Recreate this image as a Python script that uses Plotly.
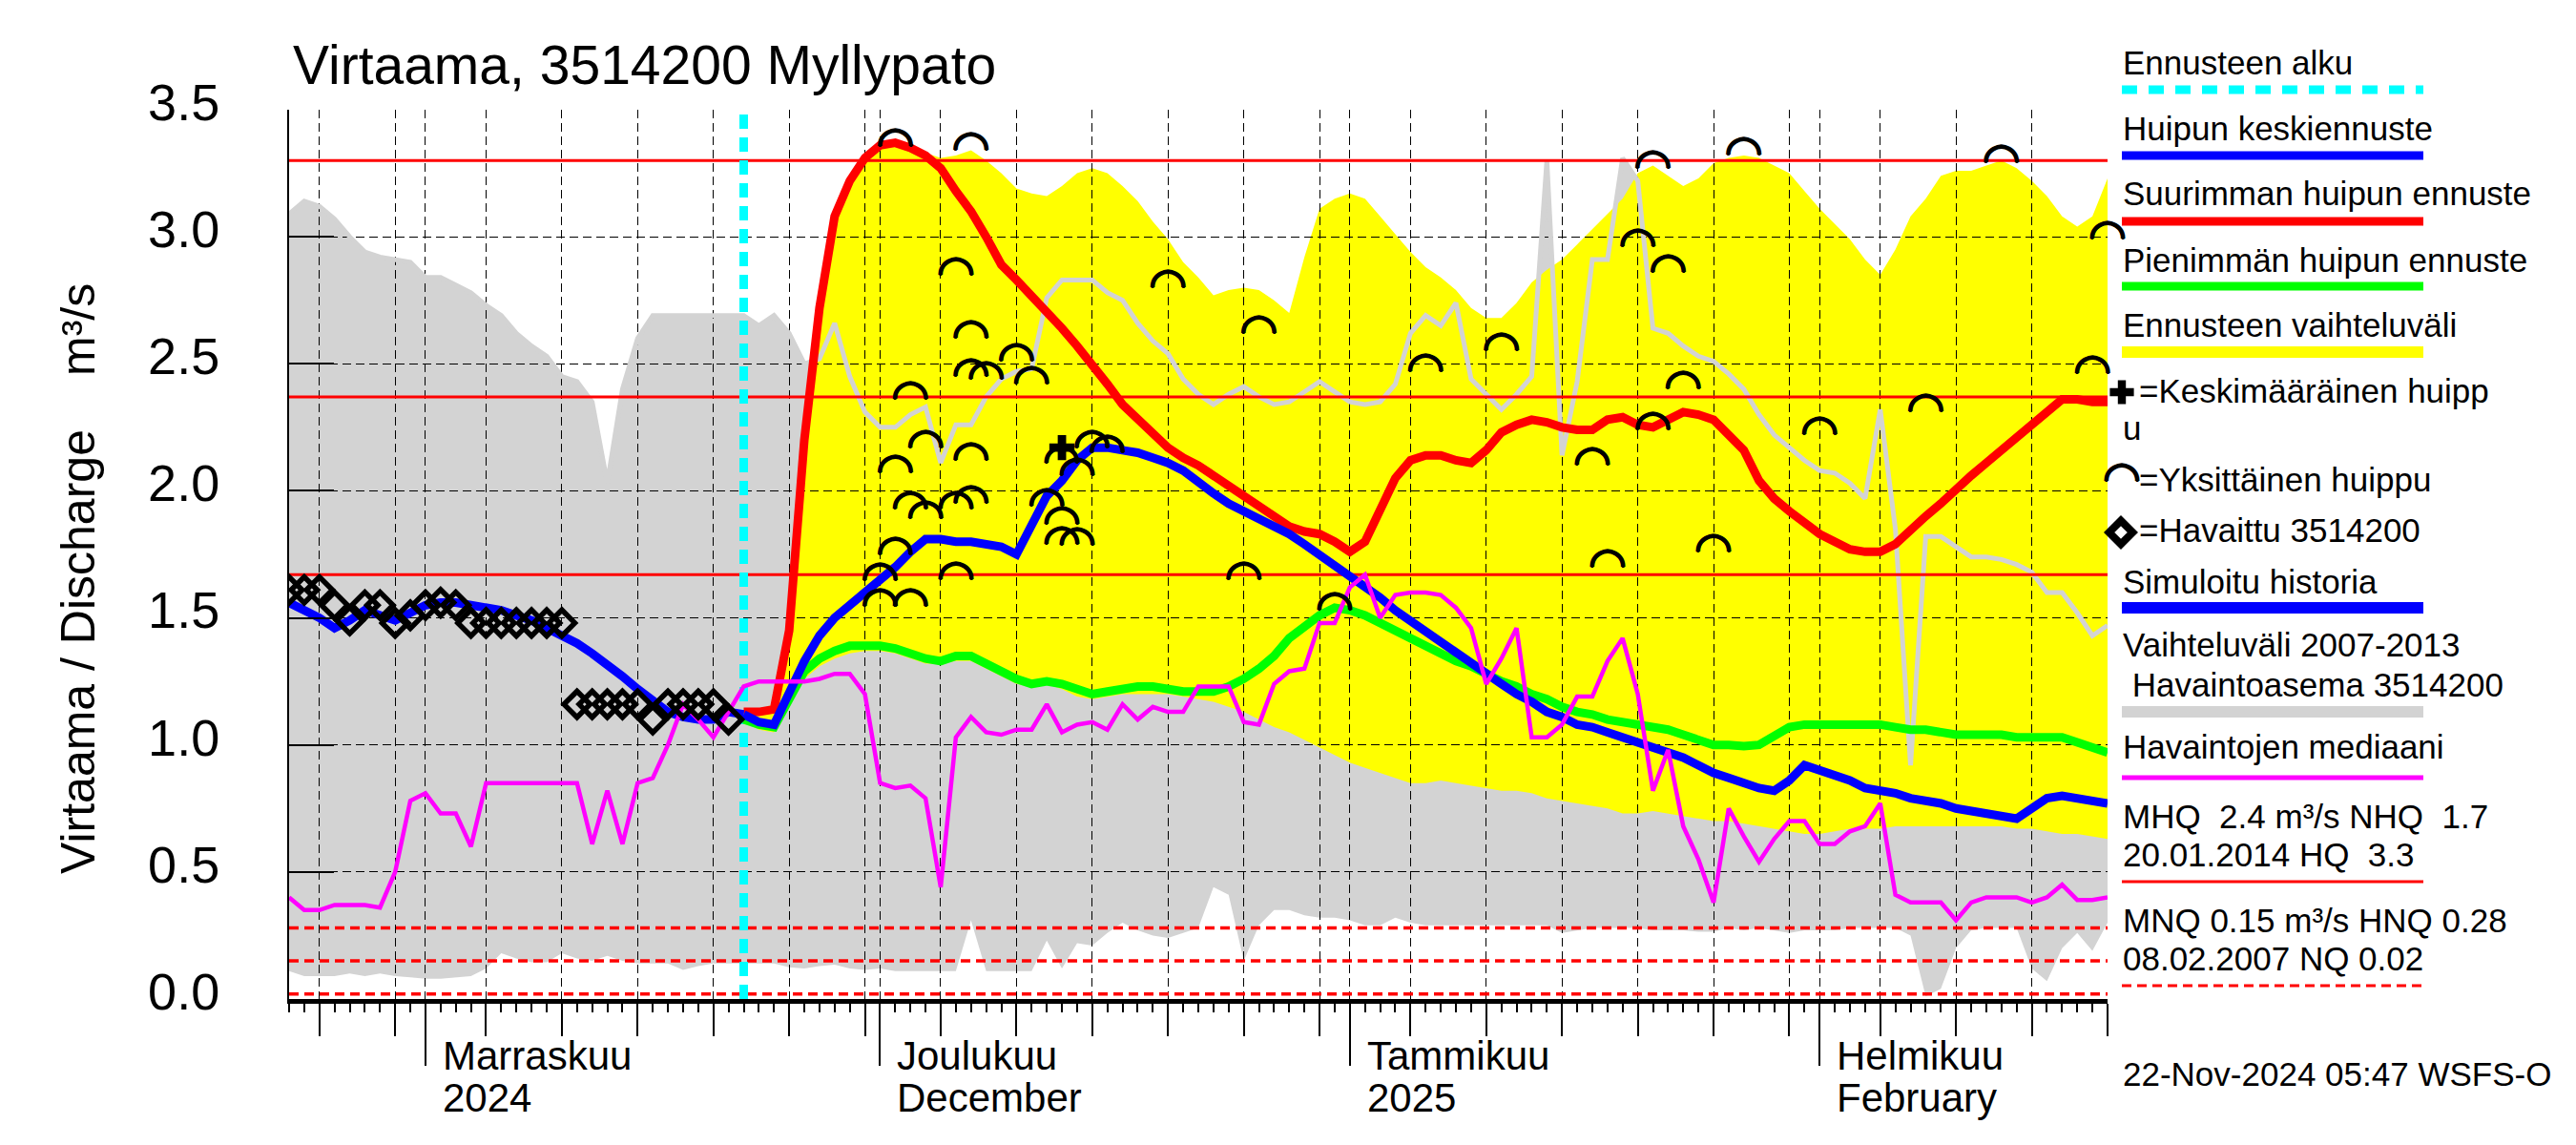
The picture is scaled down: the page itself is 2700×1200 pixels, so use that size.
import plotly.graph_objects as go
import pandas as pd

# ---------------- canvas / layout constants ----------------
W, H = 2700, 1200
OFF = 8                                          # page (body) offset of the figure
PX_L, PX_R, PX_T, PX_B = 303, 2209, 115, 1047   # plot area (pixels on the page)
FONT = "Liberation Sans, Arial, Helvetica, sans-serif"
GRAY = "#d3d3d3"
YELLOW = "#ffff00"
BLUE = "#0000ff"
RED = "#ff0000"
GREEN = "#00ff00"
MAGENTA = "#ff00ff"
CYAN = "#00ffff"

# ---------------- data ----------------
START = "2024-10-23"
END = "2025-02-20"
FC_START = "2024-11-22"

# historical range 2007-2013 (daily, START..END)
gray_high = [3.09, 3.14, 3.12, 3.07, 3.00, 2.94, 2.92, 2.91, 2.90, 2.84,
             2.84, 2.81, 2.78, 2.73, 2.69, 2.62, 2.57, 2.53, 2.45, 2.43,
             2.35, 2.03, 2.40, 2.60, 2.69, 2.69, 2.69, 2.69, 2.69, 2.69,
             2.69, 2.65, 2.69, 2.62, 2.50, 2.52, 2.66, 2.45, 2.31, 2.25,
             2.25, 2.30, 2.33, 2.11, 2.26, 2.26, 2.37, 2.44, 2.47, 2.48,
             2.76, 2.83, 2.83, 2.83, 2.78, 2.75, 2.66, 2.59, 2.54, 2.44,
             2.38, 2.34, 2.38, 2.41, 2.37, 2.34, 2.35, 2.39, 2.43, 2.39,
             2.35, 2.34, 2.35, 2.42, 2.62, 2.69, 2.65, 2.74, 2.44, 2.38,
             2.32, 2.38, 2.45, 3.30, 2.14, 2.43, 2.91, 2.91, 3.31, 3.22,
             2.64, 2.62, 2.57, 2.53, 2.51, 2.46, 2.40, 2.30, 2.22, 2.17,
             2.12, 2.08, 2.07, 2.03, 1.97, 2.32, 1.85, 0.92, 1.82, 1.82,
             1.78, 1.74, 1.74, 1.73, 1.71, 1.68, 1.60, 1.60, 1.52, 1.43,
             1.47]
gray_low = [0.11, 0.09, 0.09, 0.09, 0.10, 0.09, 0.10, 0.09, 0.085, 0.08,
            0.08, 0.085, 0.09, 0.12, 0.18, 0.16, 0.145, 0.145, 0.18, 0.16,
            0.15, 0.17, 0.15, 0.14, 0.14, 0.14, 0.115, 0.13, 0.14, 0.14,
            0.14, 0.14, 0.14, 0.125, 0.12, 0.13, 0.135, 0.12, 0.115, 0.12,
            0.11, 0.11, 0.11, 0.11, 0.11, 0.31, 0.11, 0.11, 0.11, 0.11,
            0.23, 0.12, 0.22, 0.21, 0.26, 0.30, 0.27, 0.25, 0.24, 0.26,
            0.28, 0.44, 0.41, 0.15, 0.29, 0.35, 0.35, 0.33, 0.32, 0.32,
            0.31, 0.29, 0.29, 0.32, 0.30, 0.29, 0.29, 0.29, 0.29, 0.29,
            0.29, 0.29, 0.29, 0.29, 0.26, 0.27, 0.28, 0.28, 0.28, 0.28,
            0.27, 0.27, 0.27, 0.265, 0.265, 0.28, 0.27, 0.28, 0.27, 0.26,
            0.27, 0.27, 0.27, 0.28, 0.28, 0.28, 0.28, 0.25, 0.01, 0.04,
            0.20, 0.27, 0.28, 0.28, 0.28, 0.12, 0.07, 0.20, 0.26, 0.19,
            0.30]
# median of observations (daily, START..END)
median_obs = [0.40, 0.35, 0.35, 0.37, 0.37, 0.37, 0.36, 0.50, 0.78, 0.81,
              0.73, 0.73, 0.60, 0.85, 0.85, 0.85, 0.85, 0.85, 0.85, 0.85,
              0.61, 0.82, 0.61, 0.85, 0.87, 1.00, 1.16, 1.10, 1.03, 1.13,
              1.23, 1.25, 1.25, 1.25, 1.25, 1.26, 1.28, 1.28, 1.20, 0.85,
              0.83, 0.84, 0.79, 0.44, 1.03, 1.11, 1.05, 1.04, 1.06, 1.06,
              1.16, 1.05, 1.08, 1.09, 1.06, 1.16, 1.10, 1.15, 1.13, 1.13,
              1.23, 1.23, 1.23, 1.09, 1.08, 1.24, 1.29, 1.30, 1.48, 1.48,
              1.62, 1.67, 1.50, 1.59, 1.60, 1.60, 1.59, 1.54, 1.46, 1.24,
              1.34, 1.46, 1.03, 1.03, 1.08, 1.19, 1.19, 1.33, 1.42, 1.20,
              0.82, 0.98, 0.68, 0.55, 0.38, 0.75, 0.64, 0.54, 0.63, 0.70,
              0.70, 0.61, 0.61, 0.66, 0.68, 0.77, 0.41, 0.38, 0.38, 0.38,
              0.31, 0.38, 0.40, 0.40, 0.40, 0.38, 0.40, 0.45, 0.39, 0.39,
              0.40]
# observed discharge 3514200 (daily from START)
observed = [1.61, 1.61, 1.61, 1.55, 1.49, 1.55, 1.55, 1.48, 1.51, 1.55,
            1.56, 1.55, 1.48, 1.48, 1.48, 1.48, 1.48, 1.48, 1.48, 1.16,
            1.16, 1.16, 1.16, 1.16, 1.10, 1.16, 1.16, 1.16, 1.16, 1.10]
# simulated history (daily from START up to forecast start)
sim_history = [1.56, 1.53, 1.50, 1.46, 1.49, 1.53, 1.51, 1.49, 1.52, 1.55,
               1.56, 1.56, 1.55, 1.54, 1.53, 1.51, 1.49, 1.46, 1.43, 1.40,
               1.36, 1.32, 1.27, 1.22, 1.17, 1.13, 1.11, 1.10, 1.10, 1.13,
               1.12]
# forecasts (daily, FC_START..END)
fc_mean = [1.12, 1.09, 1.08, 1.20, 1.33, 1.43, 1.50, 1.55, 1.60, 1.64,
           1.70, 1.76, 1.81, 1.81, 1.80, 1.80, 1.79, 1.78, 1.75, 1.87,
           1.98, 2.04, 2.12, 2.17, 2.17, 2.16, 2.15, 2.13, 2.11, 2.08,
           2.03, 1.99, 1.95, 1.92, 1.89, 1.86, 1.83, 1.79, 1.75, 1.71,
           1.67, 1.62, 1.58, 1.53, 1.49, 1.45, 1.41, 1.36, 1.32, 1.28,
           1.24, 1.20, 1.17, 1.13, 1.11, 1.08, 1.07, 1.05, 1.03, 1.01,
           0.99, 0.97, 0.95, 0.92, 0.89, 0.87, 0.85, 0.83, 0.82, 0.86,
           0.92, 0.90, 0.88, 0.86, 0.83, 0.82, 0.81, 0.79, 0.78, 0.77,
           0.75, 0.74, 0.73, 0.72, 0.71, 0.75, 0.79, 0.80, 0.79, 0.78,
           0.77]
fc_max = [1.13, 1.13, 1.14, 1.45, 2.20, 2.72, 3.08, 3.22, 3.31, 3.36,
          3.37, 3.35, 3.32, 3.27, 3.18, 3.10, 3.00, 2.89, 2.83, 2.77,
          2.71, 2.64, 2.57, 2.50, 2.42, 2.34, 2.28, 2.22, 2.17, 2.13,
          2.10, 2.06, 2.02, 1.98, 1.94, 1.90, 1.86, 1.84, 1.83, 1.80,
          1.76, 1.80, 1.93, 2.05, 2.12, 2.14, 2.14, 2.12, 2.11, 2.16,
          2.23, 2.26, 2.28, 2.27, 2.25, 2.24, 2.24, 2.28, 2.29, 2.26,
          2.25, 2.28, 2.31, 2.30, 2.28, 2.22, 2.16, 2.04, 1.97, 1.92,
          1.87, 1.83, 1.80, 1.77, 1.76, 1.76, 1.79, 1.85, 1.90, 1.95,
          2.01, 2.06, 2.11, 2.16, 2.21, 2.26, 2.32, 2.36, 2.36, 2.35,
          2.35]
fc_min = [1.10, 1.08, 1.07, 1.18, 1.29, 1.34, 1.37, 1.39, 1.39, 1.39,
          1.38, 1.36, 1.34, 1.33, 1.35, 1.35, 1.32, 1.29, 1.26, 1.24,
          1.25, 1.24, 1.22, 1.20, 1.21, 1.22, 1.23, 1.23, 1.22, 1.21,
          1.21, 1.21, 1.23, 1.26, 1.30, 1.35, 1.42, 1.47, 1.51, 1.54,
          1.53, 1.51, 1.48, 1.45, 1.42, 1.39, 1.36, 1.33, 1.31, 1.28,
          1.25, 1.23, 1.20, 1.18, 1.15, 1.13, 1.12, 1.10, 1.09, 1.08,
          1.07, 1.06, 1.04, 1.02, 1.00, 1.00, 0.995, 1.00, 1.04, 1.07,
          1.08, 1.08, 1.08, 1.08, 1.08, 1.08, 1.07, 1.06, 1.06, 1.05,
          1.04, 1.04, 1.04, 1.04, 1.03, 1.03, 1.03, 1.03, 1.01, 0.99,
          0.97]
ens_high = [1.14, 1.14, 1.16, 1.48, 2.22, 2.74, 3.10, 3.24, 3.33, 3.37,
            3.38, 3.36, 3.33, 3.31, 3.32, 3.34, 3.30, 3.25, 3.19, 3.17,
            3.16, 3.20, 3.25, 3.27, 3.25, 3.20, 3.14, 3.06, 2.99, 2.90,
            2.84, 2.77, 2.79, 2.80, 2.79, 2.75, 2.70, 2.92, 3.11, 3.15,
            3.17, 3.15, 3.08, 3.01, 2.94, 2.88, 2.84, 2.79, 2.72, 2.68,
            2.68, 2.74, 2.82, 2.87, 2.91, 2.97, 3.03, 3.09, 3.15, 3.25,
            3.28, 3.24, 3.20, 3.23, 3.29, 3.31, 3.32, 3.31, 3.28, 3.25,
            3.18, 3.11, 3.05, 2.99, 2.91, 2.85, 2.95, 3.08, 3.15, 3.24,
            3.26, 3.26, 3.28, 3.30, 3.27, 3.22, 3.16, 3.08, 3.04, 3.08,
            3.23]
ens_low = [1.09, 1.06, 1.05, 1.15, 1.26, 1.31, 1.34, 1.36, 1.37, 1.37,
           1.36, 1.34, 1.32, 1.32, 1.33, 1.33, 1.30, 1.27, 1.24, 1.23,
           1.24, 1.22, 1.19, 1.18, 1.19, 1.20, 1.20, 1.20, 1.20, 1.19,
           1.18, 1.17, 1.15, 1.13, 1.10, 1.07, 1.05, 1.02, 0.99, 0.96,
           0.93, 0.91, 0.89, 0.87, 0.85, 0.85, 0.86, 0.85, 0.84, 0.83,
           0.82, 0.82, 0.81, 0.79, 0.78, 0.77, 0.76, 0.75, 0.73, 0.73,
           0.74, 0.73, 0.72, 0.71, 0.70, 0.70, 0.69, 0.68, 0.67, 0.66,
           0.65, 0.65, 0.66, 0.67, 0.67, 0.67, 0.68, 0.68, 0.68, 0.68,
           0.68, 0.68, 0.68, 0.68, 0.67, 0.67, 0.66, 0.65, 0.65, 0.64,
           0.63]
# single ensemble peaks
peak_dates = ["2024-12-02", "2024-12-07", "2024-12-06", "2024-12-07", "2024-12-10",
              "2024-12-07", "2024-12-08", "2024-12-11", "2024-12-03", "2024-12-04",
              "2024-12-07", "2024-12-02", "2024-12-03", "2024-12-04", "2024-12-06",
              "2024-12-07", "2024-12-02", "2024-12-01", "2024-12-06", "2024-12-01",
              "2024-12-03", "2024-12-13", "2024-12-15", "2024-12-16", "2024-12-14",
              "2024-12-12", "2024-12-13", "2024-12-13", "2024-12-14", "2024-12-20",
              "2024-12-26", "2024-12-25", "2024-12-31", "2025-01-06", "2025-01-11",
              "2025-01-17", "2025-01-18", "2025-01-20", "2025-01-22", "2025-01-21",
              "2025-01-21", "2025-01-23", "2025-01-25", "2025-01-27", "2025-02-01",
              "2025-02-08", "2025-02-13", "2025-02-19", "2025-02-20"]
peak_values = [3.355, 3.34, 2.85, 2.60, 2.51, 2.45, 2.44, 2.42, 2.36, 2.17,
               2.12, 2.07, 1.93, 1.89, 1.93, 1.95, 1.75, 1.645, 1.65, 1.545,
               1.545, 2.11, 2.17, 2.15, 2.06, 1.94, 1.87, 1.79, 1.785, 2.80,
               2.62, 1.65, 1.53, 2.47, 2.55, 2.10, 1.70, 2.96, 2.86, 3.27,
               2.24, 2.40, 1.76, 3.32, 2.22, 2.31, 3.29, 2.46, 2.99]
mean_peak_date = ["2024-12-13"]
mean_peak_value = [2.17]

# key values
HQ, MHQ, NHQ = 3.30, 2.37, 1.67
HNQ, MNQ, NQ = 0.28, 0.15, 0.02

# axis ticks / labels
y_ticks = [0.0, 0.5, 1.0, 1.5, 2.0, 2.5, 3.0, 3.5]
month_starts = ["2024-11-01", "2024-12-01", "2025-01-01", "2025-02-01"]
month_names = ["Marraskuu", "Joulukuu", "Tammikuu", "Helmikuu"]
month_sub = ["2024", "December", "2025", "February"]
grid_days = [1, 5, 10, 15, 20, 25, 30]

# ---------------- derived ----------------
days = pd.date_range(START, END, freq="D")
fc_days = pd.date_range(FC_START, END, freq="D")
obs_days = days[:len(observed)]
hist_days = days[:len(sim_history)]
grid_dates = [d for d in pd.date_range("2024-10-01", END, freq="D")
              if d.day in grid_days and pd.Timestamp(START) <= d <= pd.Timestamp(END)]


def fx(px):
    return (px - OFF) / W


def fy(py):
    return 1 - (py - OFF) / H


XDOM = [fx(PX_L), fx(PX_R)]
YDOM = [fy(PX_B), fy(PX_T)]

fig = go.Figure()

# ---- subplot A : filled bands (under the grid) ----
fig.add_trace(go.Scatter(x=days, y=gray_low, mode="lines", line=dict(width=0, color=GRAY),
                         xaxis="x", yaxis="y", showlegend=False, hoverinfo="skip"))
fig.add_trace(go.Scatter(x=days, y=gray_high, mode="lines", line=dict(width=0, color=GRAY),
                         fill="tonexty", fillcolor=GRAY,
                         xaxis="x", yaxis="y", showlegend=False, hoverinfo="skip"))
fig.add_trace(go.Scatter(x=fc_days, y=ens_low, mode="lines", line=dict(width=0, color=YELLOW),
                         xaxis="x", yaxis="y", showlegend=False, hoverinfo="skip"))
fig.add_trace(go.Scatter(x=fc_days, y=ens_high, mode="lines", line=dict(width=0, color=YELLOW),
                         fill="tonexty", fillcolor=YELLOW,
                         xaxis="x", yaxis="y", showlegend=False, hoverinfo="skip"))


# ---- subplot B : grid, lines, markers ----
def b_line(x, y, color, width, dash=None):
    fig.add_trace(go.Scatter(x=x, y=y, mode="lines",
                             line=dict(color=color, width=width, dash=dash),
                             xaxis="x2", yaxis="y2", showlegend=False, hoverinfo="skip"))


b_line(days, gray_high, GRAY, 5)
for v in (HQ, MHQ, NHQ):
    b_line([START, END], [v, v], RED, 3)
for v in (HNQ, MNQ, NQ):
    b_line([START, END], [v, v], RED, 3.5, "10px,6px")
b_line([FC_START, FC_START], [y_ticks[0], y_ticks[-1]], CYAN, 9, "15px,9px")
b_line(fc_days, fc_min, GREEN, 9)
b_line(fc_days, fc_max, RED, 9)
b_line(hist_days, sim_history, BLUE, 9)
b_line(fc_days, fc_mean, BLUE, 9)
b_line(days, median_obs, MAGENTA, 4.5)

fig.add_trace(go.Scatter(x=obs_days, y=observed, mode="markers",
                         marker=dict(symbol="diamond-open", size=21, color="black",
                                     line=dict(width=5.5, color="black")),
                         xaxis="x2", yaxis="y2", showlegend=False, hoverinfo="skip"))
ARC = "\u25E0"
ARC_FONT = dict(family="DejaVu Sans", size=46, color="black", weight="bold",
                shadow="1px 0px 0px black, -1px 0px 0px black, 0px 1px 0px black, 0px -1px 0px black")
fig.add_trace(go.Scatter(x=peak_dates, y=peak_values, mode="text",
                         text=[ARC] * len(peak_values), textposition="middle center",
                         textfont=ARC_FONT, cliponaxis=False,
                         xaxis="x2", yaxis="y2", showlegend=False, hoverinfo="skip"))
fig.add_trace(go.Scatter(x=mean_peak_date, y=mean_peak_value, mode="markers",
                         marker=dict(symbol="cross", size=22, color="black"),
                         xaxis="x2", yaxis="y2", showlegend=False, hoverinfo="skip"))

# ---- subplot C : legend samples (page pixel space) ----
LX0, LX1 = 2224, 2540


def c_line(yc, color, width, dash=None):
    fig.add_trace(go.Scatter(x=[LX0, LX1], y=[yc, yc], mode="lines",
                             line=dict(color=color, width=width, dash=dash),
                             xaxis="x3", yaxis="y3", showlegend=False, hoverinfo="skip",
                             cliponaxis=False))


c_line(94, CYAN, 9, "16px,12px")
c_line(163, BLUE, 9)
c_line(232, RED, 9)
c_line(300, GREEN, 9)
c_line(369, YELLOW, 12)
c_line(637, BLUE, 12)
c_line(746, GRAY, 12)
c_line(815, MAGENTA, 5)
c_line(924, RED, 3)
c_line(1033, RED, 3, "10px,6px")
fig.add_trace(go.Scatter(x=[2224], y=[411], mode="markers",
                         marker=dict(symbol="cross", size=21, color="black"),
                         xaxis="x3", yaxis="y3", showlegend=False, cliponaxis=False))
fig.add_trace(go.Scatter(x=[2223], y=[558], mode="markers",
                         marker=dict(symbol="diamond-open", size=19, color="black",
                                     line=dict(width=8, color="black")),
                         xaxis="x3", yaxis="y3", showlegend=False, cliponaxis=False))
fig.add_trace(go.Scatter(x=[2224], y=[504], mode="text", text=[ARC],
                         textposition="middle center", textfont=ARC_FONT,
                         xaxis="x3", yaxis="y3", showlegend=False, cliponaxis=False))

# ---------------- annotations ----------------
ann = []


def text_at(X, baseline, s, fs, anchor="left"):
    ann.append(dict(xref="paper", yref="paper", x=fx(X), y=fy(baseline - 0.35 * fs),
                    xanchor=anchor, yanchor="middle", text=s, showarrow=False,
                    font=dict(family=FONT, size=fs, color="black")))


text_at(305, 88, "Virtaama, 3514200 Myllypato", 57)

LF = 35
text_at(2223, 78, "Ennusteen alku", LF)
text_at(2223, 147, "Huipun keskiennuste", LF)
text_at(2223, 215, "Suurimman huipun ennuste", LF)
text_at(2223, 285, "Pienimmän huipun ennuste", LF)
text_at(2223, 353, "Ennusteen vaihteluväli", LF)
text_at(2240, 422, "=Keskimääräinen huipp", LF)
text_at(2223, 461, "u", LF)
text_at(2240, 515, "=Yksittäinen huippu", LF)
text_at(2240, 568, "=Havaittu 3514200", LF)
text_at(2223, 622, "Simuloitu historia", LF)
text_at(2223, 688, "Vaihteluväli 2007-2013", LF)
text_at(2223, 730, "\u00a0Havaintoasema 3514200", LF)
text_at(2223, 795, "Havaintojen mediaani", LF)
text_at(2223, 868, "MHQ\u00a0\u00a02.4 m³/s NHQ\u00a0\u00a01.7", LF)
text_at(2223, 908, "20.01.2014 HQ\u00a0\u00a03.3", LF)
text_at(2223, 977, "MNQ 0.15 m³/s HNQ 0.28", LF)
text_at(2223, 1017, "08.02.2007 NQ 0.02", LF)
text_at(2223, 1138, "22-Nov-2024 05:47 WSFS-O", LF)

# y-axis title
for s, yc in (("m³/s", 346), ("Virtaama / Discharge", 683)):
    ann.append(dict(xref="paper", yref="paper", x=fx(82), y=fy(yc), xanchor="center",
                    yanchor="middle", textangle=-90, text=s, showarrow=False,
                    font=dict(family=FONT, size=50, color="black")))

# month labels
MF = 42
for d, n1, n2 in zip(month_starts, month_names, month_sub):
    for s, base in ((n1, 1121), (n2, 1165)):
        ann.append(dict(xref="x2", yref="paper", x=d, xshift=16, y=fy(base - 0.35 * MF),
                        xanchor="left", yanchor="middle", text=s, showarrow=False,
                        font=dict(family=FONT, size=MF, color="black")))

# ---------------- layout ----------------
GRID = dict(showgrid=True, gridcolor="black", gridwidth=1.3, griddash="9px,5px")
fig.update_layout(
    width=W, height=H,
    margin=dict(l=0, r=0, t=0, b=0, pad=0, autoexpand=False),
    paper_bgcolor="white", plot_bgcolor="rgba(0,0,0,0)",
    showlegend=False, hovermode=False,
    font=dict(family=FONT, color="black"),
    annotations=ann,
    xaxis=dict(type="date", range=[START, END], domain=XDOM, anchor="y", automargin=False,
               showgrid=False, zeroline=False, showline=False,
               tickmode="array", tickvals=month_starts, ticks="outside", ticklen=69,
               tickwidth=2, tickcolor="black", showticklabels=False),
    yaxis=dict(range=[y_ticks[0], y_ticks[-1]], domain=YDOM, anchor="x", visible=False,
               automargin=False),
    xaxis2=dict(type="date", range=[START, END], domain=XDOM, anchor="y2", automargin=False,
                **GRID, zeroline=False,
                tickmode="array", tickvals=grid_dates, ticks="outside", ticklen=34,
                tickwidth=2, tickcolor="black", showticklabels=False,
                showline=True, linewidth=5, linecolor="black",
                minor=dict(tickmode="linear", tick0=START, dtick=86400000,
                           ticks="outside", ticklen=9, tickwidth=2, tickcolor="black",
                           showgrid=False)),
    yaxis2=dict(range=[y_ticks[0], y_ticks[-1]], domain=YDOM, anchor="x2", automargin=False,
                **GRID, zeroline=False,
                tickmode="array", tickvals=y_ticks, ticktext=[f"{v:.1f}" for v in y_ticks],
                ticks="inside", ticklen=47, tickwidth=2, tickcolor="black",
                showline=True, linewidth=2, linecolor="black",
                tickfont=dict(family=FONT, size=54, color="black"),
                ticklabelstandoff=60, ticklabelshift=-8),
    xaxis3=dict(range=[2200 + OFF, W + OFF], domain=[2200 / W, 1], anchor="y3",
                visible=False, automargin=False),
    yaxis3=dict(range=[H + OFF, OFF], domain=[0, 1], anchor="x3", visible=False,
                automargin=False),
)

fig.write_html("out.html")
